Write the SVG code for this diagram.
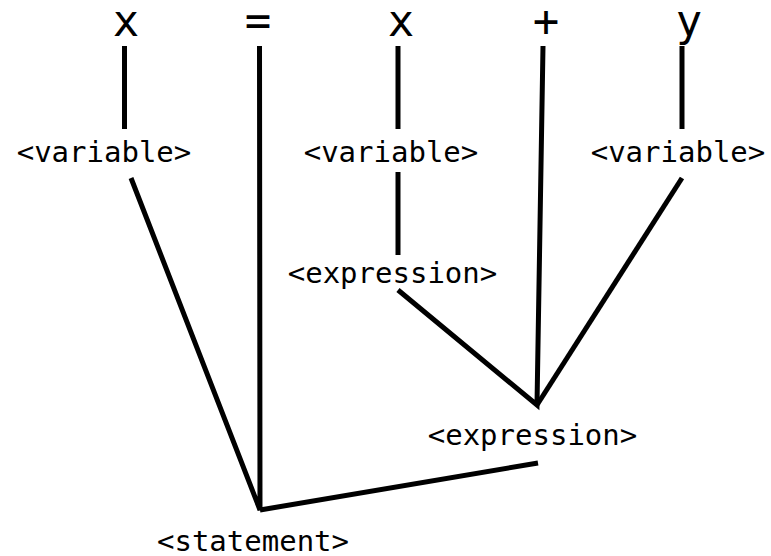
<svg xmlns="http://www.w3.org/2000/svg" width="771" height="556" viewBox="0 0 771 556">
<style>
.tok{font-family:"DejaVu Sans Mono",monospace;font-size:44px;fill:#000;text-anchor:middle}
.lbl{font-family:"DejaVu Sans Mono",monospace;font-size:29px;fill:#000;text-anchor:middle}
.ln{stroke:#000;stroke-width:5;fill:none;stroke-linecap:butt;stroke-linejoin:miter}
</style>
<rect width="771" height="556" fill="#fff"/>
<g id="tok-x1"><text class="tok" x="126" y="36">x</text></g>
<g id="tok-eq"><text class="tok" x="258" y="36">=</text></g>
<g id="tok-x2"><text class="tok" x="401" y="36">x</text></g>
<g id="tok-plus"><text class="tok" x="546" y="36">+</text></g>
<g id="tok-y"><text class="tok" x="689" y="36">y</text></g>
<g id="var1"><text class="lbl" x="104" y="162">&lt;variable&gt;</text></g>
<g id="var2"><text class="lbl" x="391" y="162">&lt;variable&gt;</text></g>
<g id="var3"><text class="lbl" x="678" y="162">&lt;variable&gt;</text></g>
<g id="expr1"><text class="lbl" x="392.5" y="283">&lt;expression&gt;</text></g>
<g id="expr2"><text class="lbl" x="532.5" y="445">&lt;expression&gt;</text></g>
<g id="stmt"><text class="lbl" x="253" y="551">&lt;statement&gt;</text></g>
<g id="connectors" class="ln">
<line x1="124.5" y1="46" x2="124.5" y2="129"/>
<line x1="398" y1="46" x2="398" y2="129"/>
<line x1="682" y1="46" x2="682" y2="129"/>
<line x1="398" y1="172" x2="398" y2="255"/>
<polyline points="131,178 260,510 259.5,46"/>
<line x1="260" y1="510" x2="538" y2="463"/>
<polyline points="398,290 537,405 543,46"/>
<line x1="537" y1="405" x2="682" y2="178"/>
</g>
</svg>
